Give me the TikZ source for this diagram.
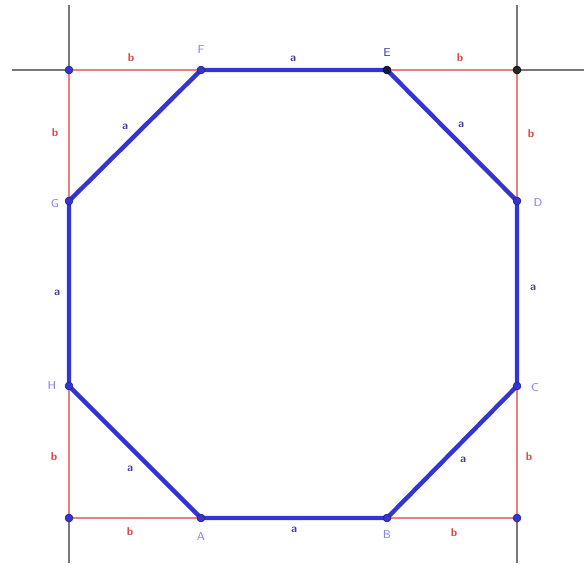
\documentclass[tikz,border=0pt]{standalone}
\usetikzlibrary{positioning}
\definecolor{octblue}{RGB}{52,52,210}
\definecolor{sqred}{RGB}{232,128,128}
\definecolor{axgray}{RGB}{120,120,120}
\definecolor{vname}{RGB}{130,130,235}
\definecolor{alab}{RGB}{60,60,170}
\definecolor{blab}{RGB}{225,70,70}

\begin{document}
\begin{tikzpicture}[x=0.02cm, y=-0.02cm, font=\fontsize{6.5}{7}\selectfont\sffamily,
    axis/.style={axgray, line width=1.1pt},
    side/.style={sqred, line width=0.9pt},
    octside/.style={octblue, line width=2.5pt, line join=round},
    dot/.style={circle, fill=octblue, draw=octblue!60!black, line width=0.3pt, inner sep=0pt, minimum size=4.5pt},
    vlabel/.style={vname, inner sep=0pt},
    alabel/.style={alab, inner sep=0pt, font=\fontsize{6.5}{7}\selectfont\sffamily\bfseries},
    blabel/.style={blab, inner sep=0pt, font=\fontsize{6.5}{7}\selectfont\sffamily\bfseries}]
    \useasboundingbox (0,0) rectangle (584,565);

    % Square corners and octagon vertices
    \coordinate (tl) at (69,70);
    \coordinate (tr) at (517,70);
    \coordinate (bl) at (69,518);
    \coordinate (br) at (517,518);
    \coordinate (F) at (201,70);
    \coordinate (E) at (387,70);
    \coordinate (D) at (517,201);
    \coordinate (C) at (517,386);
    \coordinate (B) at (387,518);
    \coordinate (A) at (201,518);
    \coordinate (H) at (69,386);
    \coordinate (G) at (69,201);

    % Grey lines
    \coordinate (hl) at (12,70);
    \coordinate (hr) at (584,70);
    \coordinate (vlt) at (69,5);
    \coordinate (vlb) at (69,563);
    \coordinate (vrt) at (517,5);
    \coordinate (vrb) at (517,563);
    \draw[axis] (hl) -- (hr);
    \draw[axis] (vlt) -- (vlb);
    \draw[axis] (vrt) -- (vrb);

    % Square
    \draw[side] (tl) -- (tr) -- (br) -- (bl) -- cycle;

    % Octagon
    \draw[octside] (A) -- (B) -- (C) -- (D) -- (E) -- (F) -- (G) -- (H) -- cycle;

    % Points
    \foreach \p in {tl,bl,br,F,D,C,B,A,H,G}
        \node[dot] at (\p) {};
    \node[dot, fill=black!85, draw=black] at (tr) {};
    \node[dot, fill=octblue!40!black, draw=black] at (E) {};

    % Vertex names
    \node[vlabel] (lF) at (201,50) {F};
    \node[vlabel, alab] (lE) at (387,53) {E};
    \node[vlabel] (lD) at (538,203) {D};
    \node[vlabel] (lC) at (535,388) {C};
    \node[vlabel] (lB) at (387,535) {B};
    \node[vlabel] (lA) at (201,537) {A};
    \node[vlabel] (lH) at (52,386) {H};
    \node[vlabel] (lG) at (55,204) {G};

    % Side lengths a
    \node[alabel] (a1) at (293,59) {a};
    \node[alabel] (a2) at (461,125) {a};
    \node[alabel] (a3) at (533,288) {a};
    \node[alabel] (a4) at (463,460) {a};
    \node[alabel] (a5) at (294,530) {a};
    \node[alabel] (a6) at (130,469) {a};
    \node[alabel] (a7) at (57,293) {a};
    \node[alabel] (a8) at (125,127) {a};

    % Side lengths b
    \node[blabel] (b1) at (131,58) {b};
    \node[blabel] (b2) at (460,58) {b};
    \node[blabel] (b3) at (531,134) {b};
    \node[blabel] (b4) at (529,457) {b};
    \node[blabel] (b5) at (454,533) {b};
    \node[blabel] (b6) at (130,532) {b};
    \node[blabel] (b7) at (54,457) {b};
    \node[blabel] (b8) at (55,133) {b};
\end{tikzpicture}
\end{document}
